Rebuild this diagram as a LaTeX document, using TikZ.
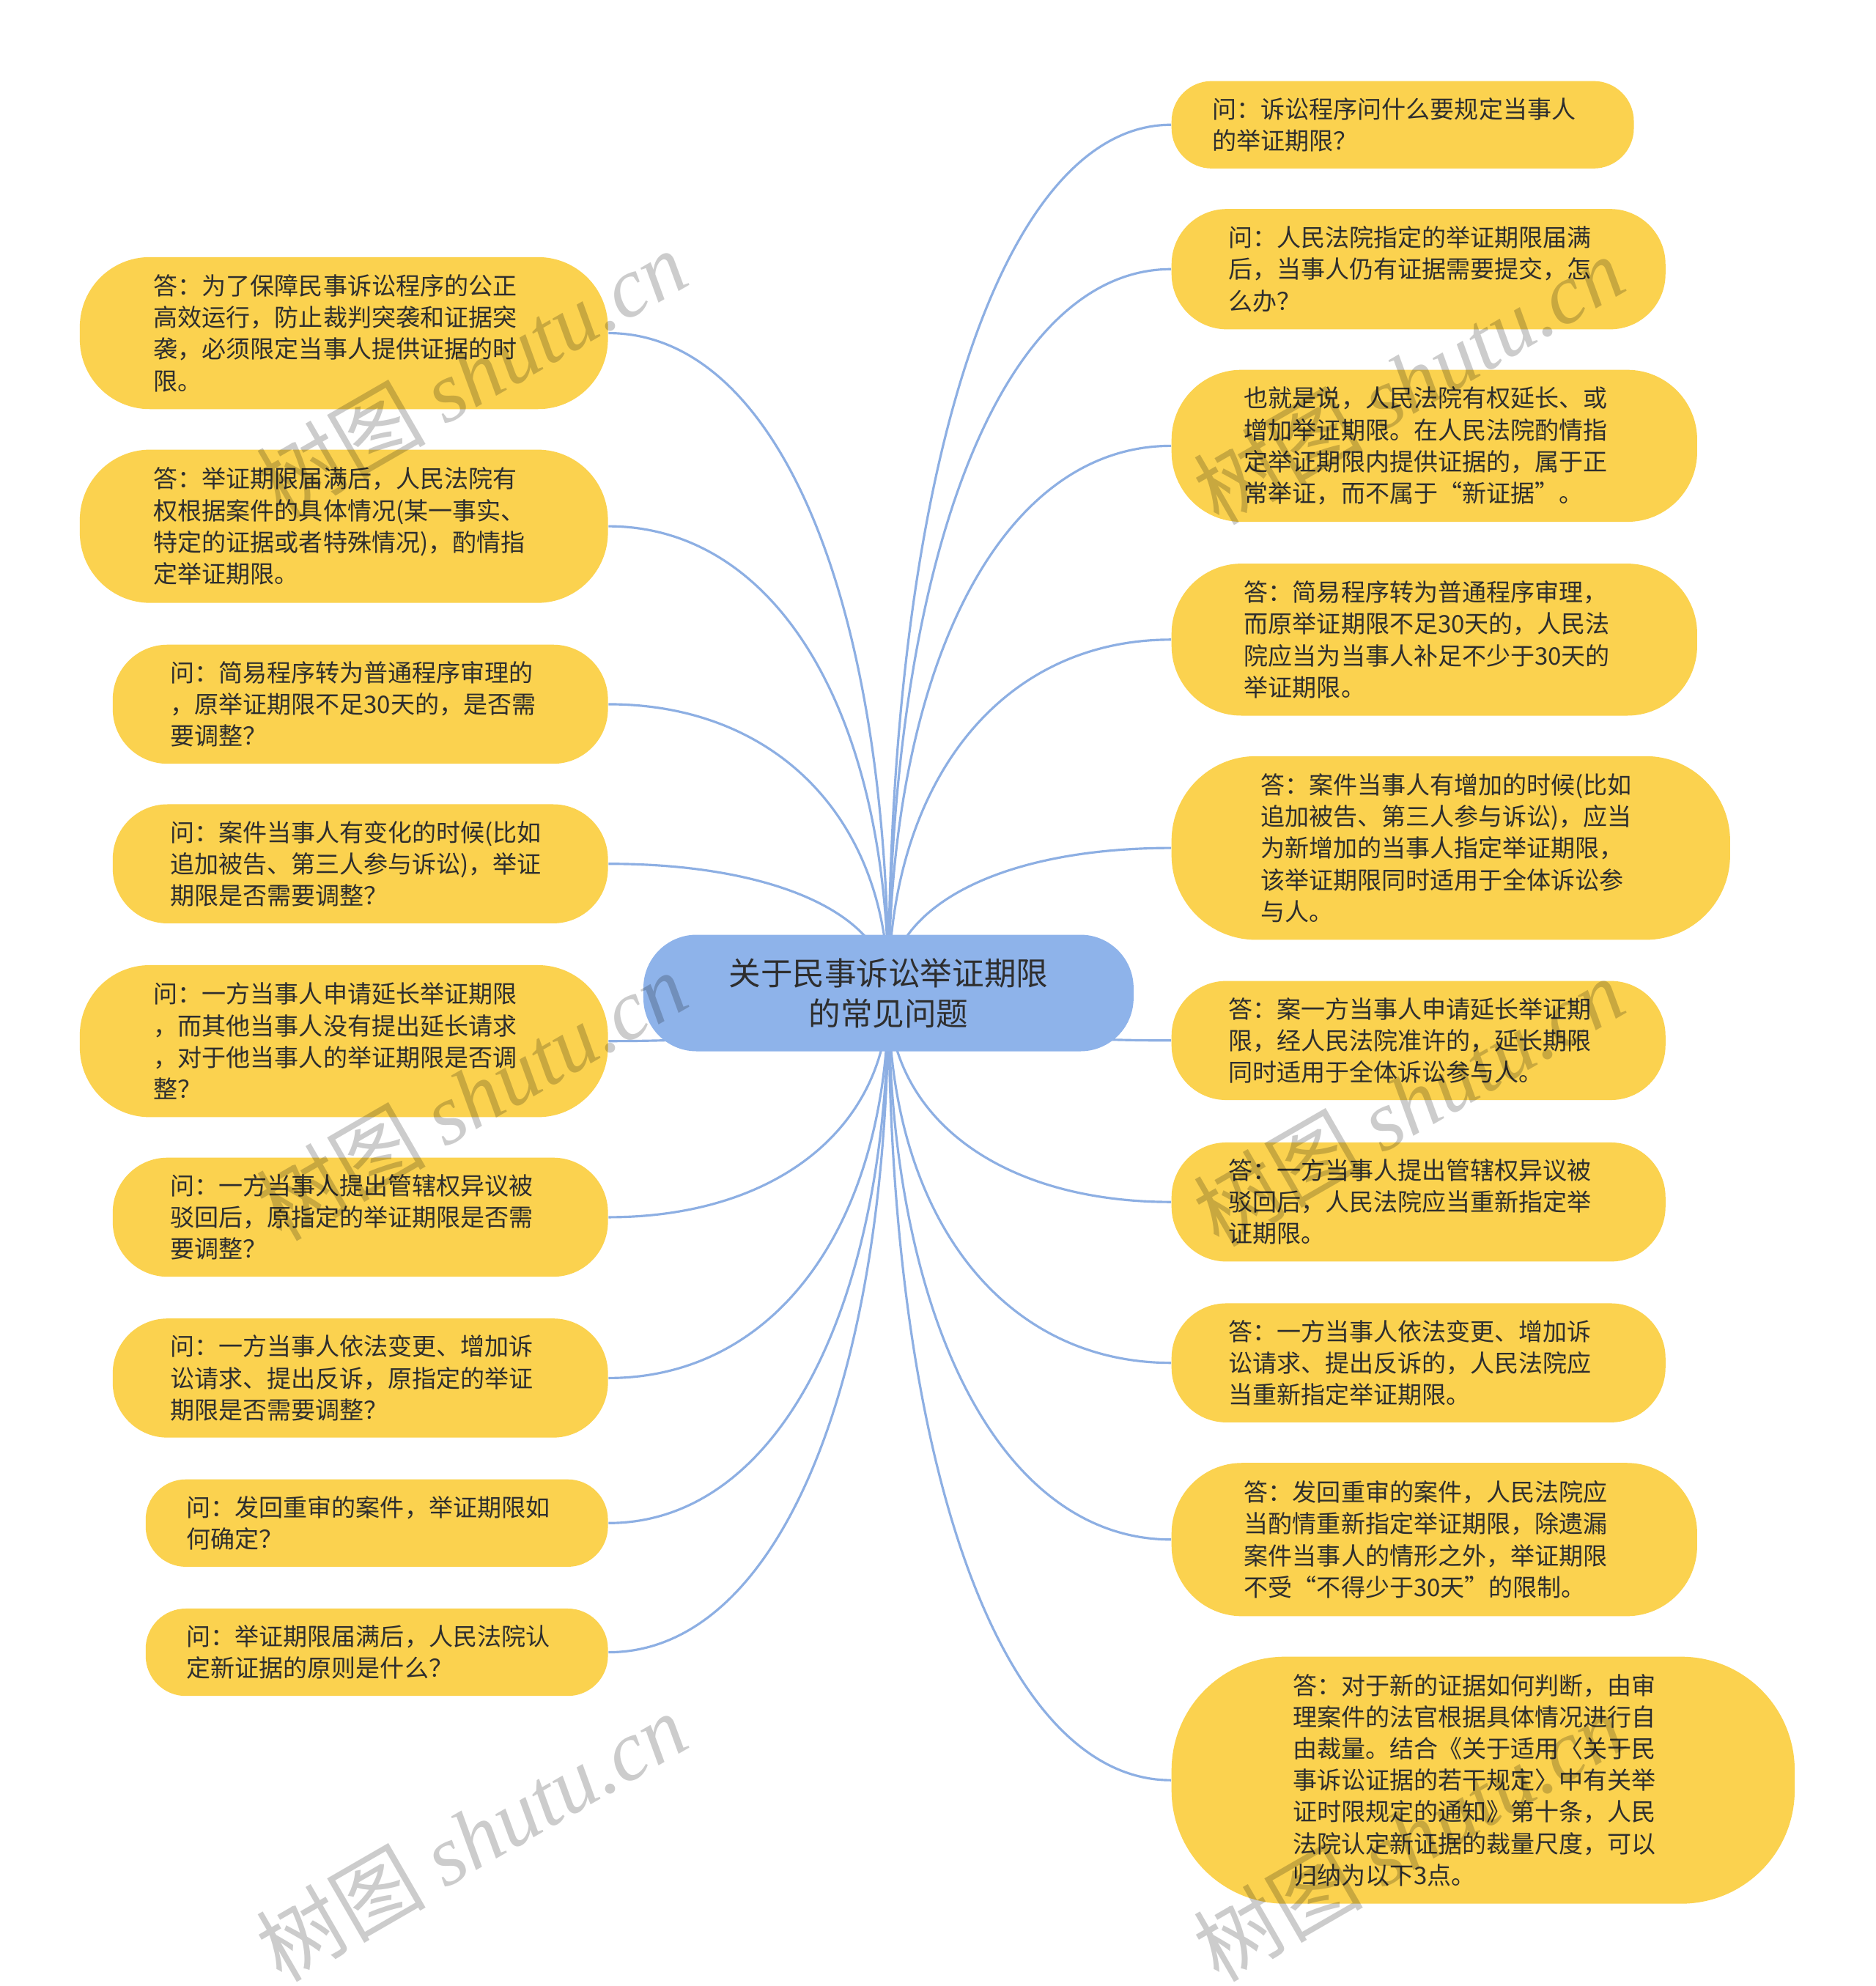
\documentclass[tikz,border=0pt]{standalone}
\usepackage{fontspec}
\setmainfont{Noto Sans CJK SC}
\newfontfamily\wmfont{Liberation Serif}
\usetikzlibrary{calc,backgrounds}
\definecolor{leafyellow}{HTML}{FBD24F}
\definecolor{rootblue}{HTML}{8EB3EA}
\definecolor{linkblue}{HTML}{8DAFE3}
\definecolor{inkgray}{HTML}{2E2E2E}

\begin{document}
\begin{tikzpicture}[x=0.017286cm, y=-0.017286cm,
	leaf/.style 2 args={fill=leafyellow, text=inkgray, align=left, text width=5.19cm, inner sep=0pt, minimum width=#1*0.017286cm, minimum height=#2*0.017286cm, rounded corners=0.46*#2*0.017286cm, font=\fontsize{9.4}{12.3}\selectfont},
	root/.style={fill=rootblue, text=inkgray, align=center, inner sep=0pt, minimum width=387*0.017286cm, minimum height=92*0.017286cm, rounded corners=42*0.017286cm, font=\fontsize{12.4}{15.7}\selectfont},
	link/.style={draw=linkblue, line width=0.9pt},
	watermark/.style={rotate=30, text=black, text opacity=0.2, font=\fontsize{33}{33}\selectfont}]
	\useasboundingbox (0,0) rectangle (1481,1568);
	% centre
	\node[root] (root) at (701.5,784) {关于民事诉讼举证期限\\的常见问题};
	% right side
	\node[leaf={365}{69}] (r1) at (1107.5,98.5) {问：诉讼程序问什么要规定当事人\\的举证期限？};
	\node[leaf={390}{95}] (r2) at (1120,212.5) {问：人民法院指定的举证期限届满\\后，当事人仍有证据需要提交，怎\\么办？};
	\node[leaf={415}{120}] (r3) at (1132.5,352) {也就是说，人民法院有权延长、或\\增加举证期限。在人民法院酌情指\\定举证期限内提供证据的，属于正\\常举证，而不属于“新证据”。};
	\node[leaf={415}{120}] (r4) at (1132.5,505) {答：简易程序转为普通程序审理，\\而原举证期限不足30天的，人民法\\院应当为当事人补足不少于30天的\\举证期限。};
	\node[leaf={441}{145}] (r5) at (1145.5,669.5) {答：案件当事人有增加的时候(比如\\追加被告、第三人参与诉讼)，应当\\为新增加的当事人指定举证期限，\\该举证期限同时适用于全体诉讼参\\与人。};
	\node[leaf={390}{94}] (r6) at (1120,821.5) {答：案一方当事人申请延长举证期\\限，经人民法院准许的，延长期限\\同时适用于全体诉讼参与人。};
	\node[leaf={390}{94}] (r7) at (1120,949) {答：一方当事人提出管辖权异议被\\驳回后，人民法院应当重新指定举\\证期限。};
	\node[leaf={390}{94}] (r8) at (1120,1076) {答：一方当事人依法变更、增加诉\\讼请求、提出反诉的，人民法院应\\当重新指定举证期限。};
	\node[leaf={415}{121}] (r9) at (1132.5,1215.5) {答：发回重审的案件，人民法院应\\当酌情重新指定举证期限，除遗漏\\案件当事人的情形之外，举证期限\\不受“不得少于30天”的限制。};
	\node[leaf={492}{195}] (r10) at (1171,1405.5) {答：对于新的证据如何判断，由审\\理案件的法官根据具体情况进行自\\由裁量。结合《关于适用〈关于民\\事诉讼证据的若干规定〉中有关举\\证时限规定的通知》第十条，人民\\法院认定新证据的裁量尺度，可以\\归纳为以下3点。};
	% left side
	\node[leaf={417}{120}] (l1) at (271.5,263) {答：为了保障民事诉讼程序的公正\\高效运行，防止裁判突袭和证据突\\袭，必须限定当事人提供证据的时\\限。};
	\node[leaf={417}{121}] (l2) at (271.5,415.5) {答：举证期限届满后，人民法院有\\权根据案件的具体情况(某一事实、\\特定的证据或者特殊情况)，酌情指\\定举证期限。};
	\node[leaf={391}{94}] (l3) at (284.5,556) {问：简易程序转为普通程序审理的\\，原举证期限不足30天的，是否需\\要调整？};
	\node[leaf={391}{94}] (l4) at (284.5,682) {问：案件当事人有变化的时候(比如\\追加被告、第三人参与诉讼)，举证\\期限是否需要调整？};
	\node[leaf={417}{120}] (l5) at (271.5,822) {问：一方当事人申请延长举证期限\\，而其他当事人没有提出延长请求\\，对于他当事人的举证期限是否调\\整？};
	\node[leaf={391}{94}] (l6) at (284.5,961) {问：一方当事人提出管辖权异议被\\驳回后，原指定的举证期限是否需\\要调整？};
	\node[leaf={391}{94}] (l7) at (284.5,1088) {问：一方当事人依法变更、增加诉\\讼请求、提出反诉，原指定的举证\\期限是否需要调整？};
	\node[leaf={365}{69}] (l8) at (297.5,1202.5) {问：发回重审的案件，举证期限如\\何确定？};
	\node[leaf={365}{69}] (l9) at (297.5,1304.5) {问：举证期限届满后，人民法院认\\定新证据的原则是什么？};
	% links behind the boxes
	\begin{pgfonlayer}{background}
		\fill[white] (0,0) rectangle (1481,1568);
		\foreach \i in {1,...,10}
			\draw[link] (root.center) .. controls ($(root.center)!0.6!(root.center |- r\i.west)$) and ($(r\i.west)!0.6!(root.center |- r\i.west)$) .. (r\i.west);
		\foreach \i in {1,...,9}
			\draw[link] (root.center) .. controls ($(root.center)!0.6!(root.center |- l\i.east)$) and ($(l\i.east)!0.6!(root.center |- l\i.east)$) .. (l\i.east);
	\end{pgfonlayer}
	% watermarks
	\foreach \wx/\wy [count=\k] in {372/295, 372/865, 372/1450, 1112/300, 1112/870, 1112/1450}
		\node[watermark] (wm\k) at (\wx,\wy) {树图 {\wmfont\itshape shutu.cn}};
\end{tikzpicture}
\end{document}
